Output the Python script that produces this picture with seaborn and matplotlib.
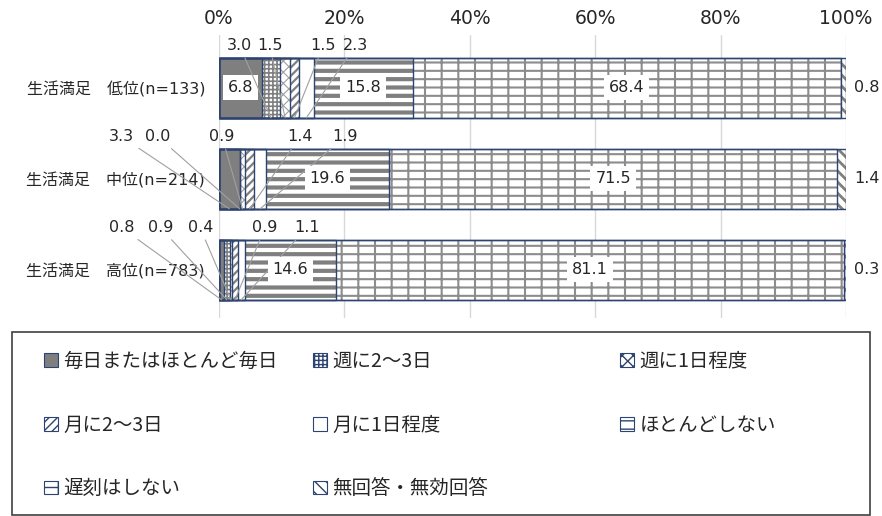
import numpy as np
import pandas as pd
import seaborn as sns
import matplotlib.pyplot as plt
from matplotlib.patches import Patch, Rectangle

groups = ['生活満足　低位(n=133)', '生活満足　中位(n=214)', '生活満足　高位(n=783)']
categories = ['毎日またはほとんど毎日', '週に2～3日', '週に1日程度', '月に2～3日',
              '月に1日程度', 'ほとんどしない', '遅刻はしない', '無回答・無効回答']
low = [6.8, 3.0, 1.5, 1.5, 2.3, 15.8, 68.4, 0.8]
mid = [3.3, 0.0, 0.9, 1.4, 1.9, 19.6, 71.5, 1.4]
high = [0.8, 0.9, 0.4, 0.9, 1.1, 14.6, 81.1, 0.3]

# x (in %) where the small values are written above each bar
small_x = [[3.3, 8.1, 16.6, 21.7],
           [-15.5, -9.7, 0.5, 12.9, 20.1],
           [-15.5, -9.3, -3.0, 7.3, 14.0]]

# face, hatch, hatch colour, hatch width
styles = [('#7f7f7f', None, '#7f7f7f', 1.0),
          ('white', '++++', '#7f7f7f', 1.2),
          ('white', 'xxx', '#a0a0a0', 0.8),
          ('white', '////', '#7f7f7f', 1.6),
          ('white', None, '#7f7f7f', 1.0),
          ('white', '--', '#7f7f7f', 3.0),
          ('white', '--|', '#8c8c8c', 1.5),
          ('white', '\\\\\\', '#7f7f7f', 2.0)]
navy = '#2e4470'
num_font = ['DejaVu Sans', 'Noto Sans CJK JP']

rows = []
for g, vals in zip(groups, [low, mid, high]):
    v = np.array(vals)
    end = np.cumsum(v) / v.sum() * 100
    start = end - v / v.sum() * 100
    for c, val, s, e in zip(categories, v, start, end):
        rows.append(dict(group=g, category=c, value=val, start=s, end=e))
df = pd.DataFrame(rows)

sns.set_theme(style='white')
plt.rcParams['font.family'] = ['Noto Sans CJK JP', 'DejaVu Sans']

fig = plt.figure(figsize=(8.82, 5.16), dpi=100)
ax = fig.add_axes([0.2483, 0.3837, 0.7109, 0.5485])

# longest cumulative bar first, shorter ones on top
for k in range(len(categories) - 1, -1, -1):
    face, hatch, hc, hlw = styles[k]
    sub = df[df['category'] == categories[k]]
    n0 = len(ax.patches)
    with plt.rc_context({'hatch.linewidth': hlw}):
        sns.barplot(data=sub, x='end', y='group', order=groups, orient='h',
                    color=face, saturation=1, errorbar=None, width=0.66,
                    hatch=hatch, edgecolor=hc, linewidth=0, ax=ax)
    for p in ax.patches[n0:]:
        if hasattr(p, 'set_hatch_linewidth'):
            p.set_hatch_linewidth(hlw)

for k in range(len(categories)):
    sub = df[df['category'] == categories[k]]
    sns.barplot(data=sub, x='end', y='group', order=groups, orient='h',
                color=navy, saturation=1, errorbar=None, width=0.66,
                fill=False, linewidth=1.0, ax=ax)

# value labels
for i, g in enumerate(groups):
    sub = df[df['group'] == g].reset_index(drop=True)
    j = 0
    for k, r in sub.iterrows():
        mid_x = (r['start'] + r['end']) / 2
        lab = f"{r['value']:.1f}"
        if k == len(categories) - 1:
            ax.text(103.3, i, lab, ha='center', va='center',
                    fontsize=11.5, color='#262626', family=num_font)
        elif r['value'] >= 5:
            ax.text(mid_x, i, lab, ha='center', va='center',
                    fontsize=11.5, color='#262626', zorder=5, family=num_font,
                    bbox=dict(boxstyle='square,pad=0.3', fc='white', ec='none'))
        else:
            ax.annotate(lab, xy=(mid_x, i + 0.33),
                        xytext=(small_x[i][j], i - 0.46),
                        ha='center', va='center', fontsize=11.5, color='#262626',
                        family=num_font,
                        arrowprops=dict(arrowstyle='-', color='#a0a0a0', lw=0.8,
                                        shrinkA=1, shrinkB=0),
                        annotation_clip=False, zorder=5)
            j += 1

ax.set_xlim(0, 100)
ax.set_ylim(2.53, -0.58)
ax.set_xticks(range(0, 101, 20))
ax.set_xticklabels([f'{t}%' for t in range(0, 101, 20)], family=num_font)
ax.set_yticks(range(len(groups)))
ax.set_yticklabels(groups, family=num_font)
ax.xaxis.tick_top()
ax.tick_params(axis='x', length=0, pad=5, labelsize=13.5, labelcolor='#262626')
ax.tick_params(axis='y', length=0, pad=10, labelsize=11.5, labelcolor='#262626')
ax.set_xlabel('')
ax.set_ylabel('')
ax.grid(axis='x', color='#d9d9d9', lw=1)
ax.set_axisbelow(True)
for s in ax.spines.values():
    s.set_visible(False)

# legend: three columns inside a framed box
handles = [Patch(facecolor=st[0], edgecolor=navy, hatch=st[1], lw=0.8) for st in styles]
cols = [[0, 3, 6], [1, 4, 7], [2, 5]]
col_x = [0.0499, 0.355, 0.703]
for cx, idx in zip(col_x, cols):
    fig.legend([handles[m] for m in idx], [categories[m] for m in idx],
               loc='upper left', bbox_to_anchor=(cx, 0.320), frameon=False,
               fontsize=14, handlelength=0.7, handleheight=0.7,
               handletextpad=0.3, labelspacing=2.2, borderpad=0, borderaxespad=0)
fig.add_artist(Rectangle((12 / 882, 1.5 / 516), 858 / 882, 0.357 - 1.5 / 516,
                         transform=fig.transFigure, fill=False, ec='#404040', lw=1.2))

fig.savefig('out.png', dpi=100)
